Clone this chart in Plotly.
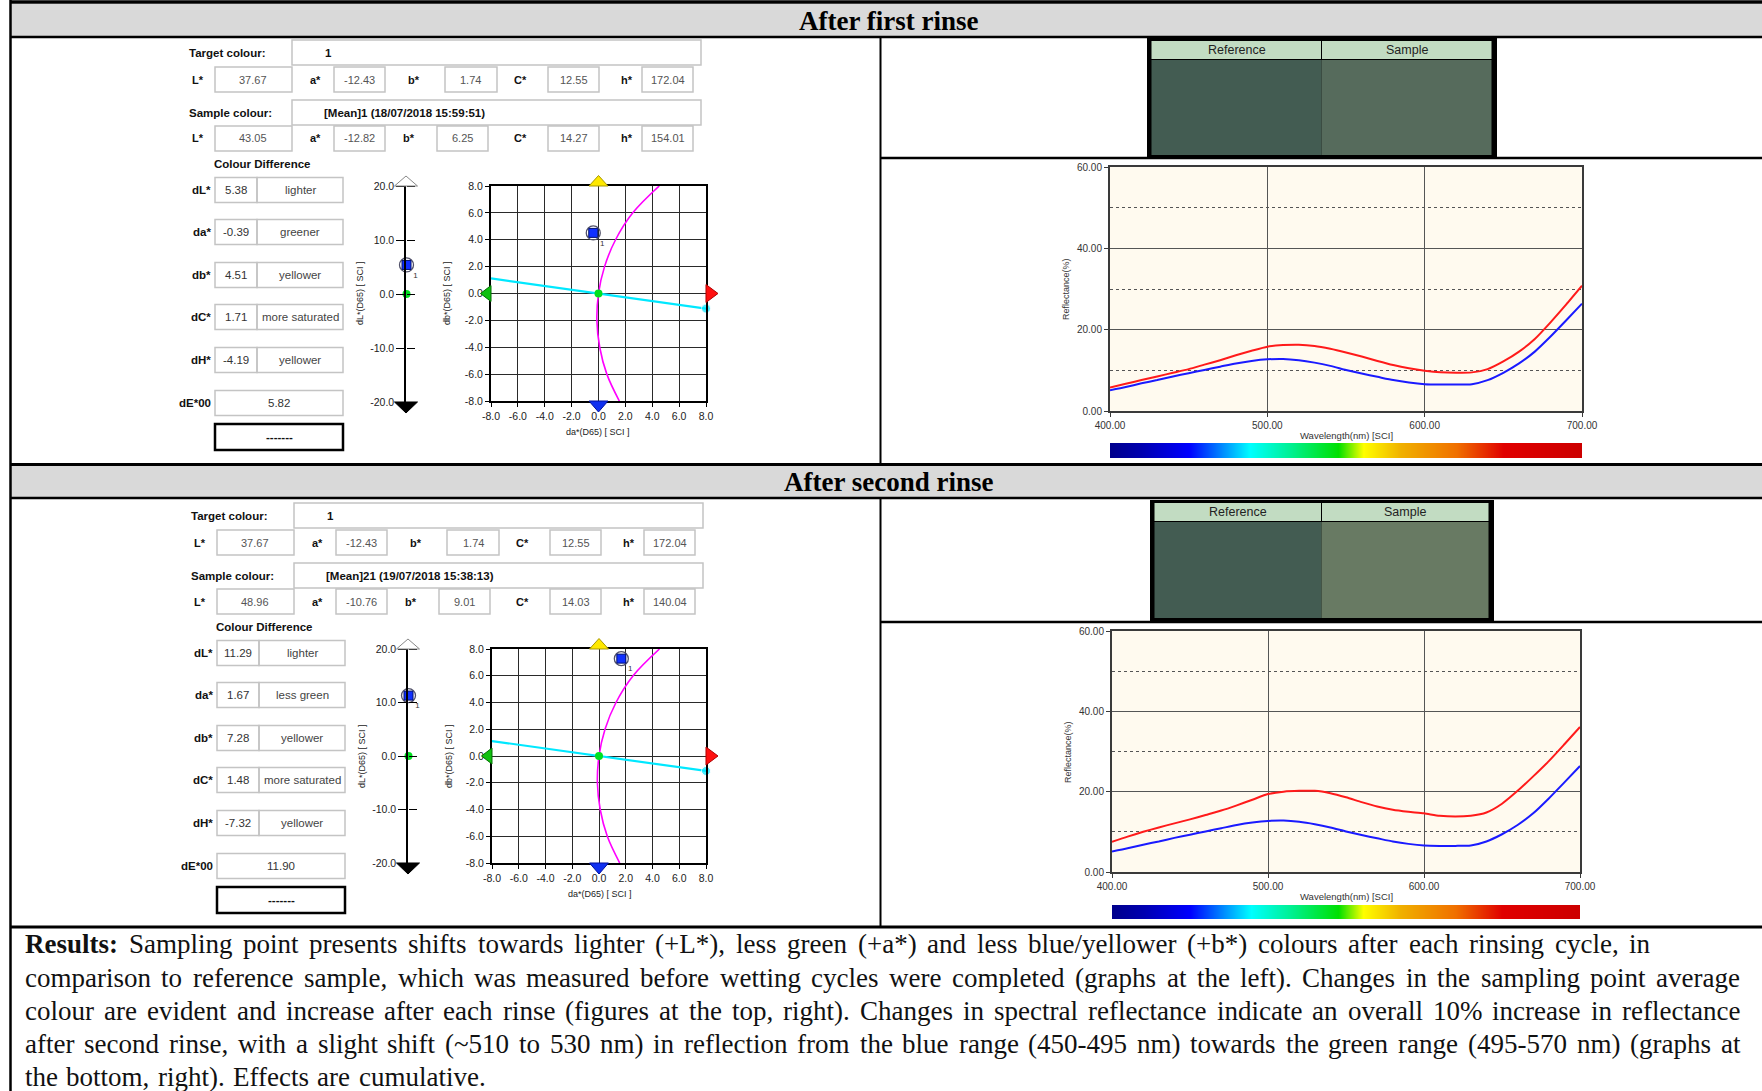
import plotly.graph_objects as go

W, H = 1762, 1091

# ---------------- data ----------------
section_titles = ["After first rinse", "After second rinse"]

target_name = "1"
lab_labels = ["L*", "a*", "b*", "C*", "h*"]
target_lab = [37.67, -12.43, 1.74, 12.55, 172.04]

sample1_name = "[Mean]1 (18/07/2018 15:59:51)"
sample1_lab = [43.05, -12.82, 6.25, 14.27, 154.01]
sample2_name = "[Mean]21 (19/07/2018 15:38:13)"
sample2_lab = [48.96, -10.76, 9.01, 14.03, 140.04]

diff_labels = ["dL*", "da*", "db*", "dC*", "dH*"]
diff1_values = [5.38, -0.39, 4.51, 1.71, -4.19]
diff1_words = ["lighter", "greener", "yellower", "more saturated", "yellower"]
diff2_values = [11.29, 1.67, 7.28, 1.48, -7.32]
diff2_words = ["lighter", "less green", "yellower", "more saturated", "yellower"]
de00_1 = 5.82
de00_2 = 11.90

dl_ticks = [-20, -10, 0, 10, 20]
ab_ticks = [-8, -6, -4, -2, 0, 2, 4, 6, 8]

# constant-chroma arc of the target (da*, db*)
arc_da = [4.52, 2.55, 1.27, 0.45, 0.0, -0.12, 0.09, 0.62, 1.55]
arc_db = [8.0, 6.0, 4.0, 2.0, 0.0, -2.0, -4.0, -6.0, -8.0]
# hue line of the target
hue_da = [-8.0, 8.0]
hue_db = [1.12, -1.12]

wavelength = [400, 410, 420, 430, 440, 450, 460, 470, 480, 490, 500,
              510, 520, 530, 540, 550, 560, 570, 580, 590, 600,
              610, 620, 630, 640, 650, 660, 670, 680, 690, 700]
refl_reference = [5.1, 5.9, 6.8, 7.6, 8.5, 9.3, 10.1, 10.9, 11.7, 12.3, 12.7,
                  12.8, 12.5, 11.9, 11.1, 10.1, 9.2, 8.4, 7.6, 7.0, 6.6,
                  6.5, 6.5, 6.6, 7.6, 9.4, 11.7, 14.6, 18.3, 22.3, 26.4]
refl_rinse1 = [5.8, 6.7, 7.6, 8.5, 9.4, 10.3, 11.4, 12.5, 13.7, 14.8, 15.8,
               16.2, 16.3, 16.0, 15.3, 14.4, 13.4, 12.3, 11.3, 10.5, 9.9,
               9.5, 9.4, 9.5, 10.3, 12.2, 14.6, 17.7, 21.8, 26.2, 30.8]
refl_rinse2 = [7.5, 8.8, 10.0, 11.1, 12.1, 13.1, 14.2, 15.3, 16.6, 18.0, 19.4,
               20.0, 20.2, 20.2, 19.6, 18.6, 17.4, 16.3, 15.5, 15.0, 14.6,
               14.0, 13.8, 14.0, 14.8, 17.0, 20.2, 23.8, 27.6, 31.8, 36.1]
wl_ticks = [400, 500, 600, 700]
refl_ticks = [0, 20, 40, 60]

spectrum_nm = [400, 420, 450, 489, 515, 545, 561, 585, 620, 650, 700]
spectrum_colors = ["#00008c", "#0000b0", "#0000ff", "#00ffff", "#00f090", "#00e000",
                   "#ffff00", "#f0b000", "#f07000", "#e00000", "#cc0000"]

swatch_reference = "#435c52"
swatch_rinse1 = "#566b5c"
swatch_rinse2 = "#687a63"

results_lead = "Results:"
results_lines = [
    "Results: Sampling point presents shifts towards lighter (+L*), less green (+a*) and less blue/yellower (+b*) colours after each rinsing cycle, in",
    "comparison to reference sample, which was measured before wetting cycles were completed (graphs at the left). Changes in the sampling point average",
    "colour are evident and increase after each rinse (figures at the top, right). Changes in spectral reflectance indicate an overall  10% increase in reflectance",
    "after second rinse, with a slight shift (~510 to 530 nm) in reflection from the blue range (450-495 nm) towards the green range (495-570 nm) (graphs at",
    "the bottom, right). Effects are cumulative.",
]

# ---------------- helpers ----------------
SANS = "Liberation Sans, Arial, sans-serif"
SERIF = "Liberation Serif, Times New Roman, serif"
shapes, annos = [], []


def X(p):
    return p / W


def Y(p):
    return 1 - p / H


def rect(x0, y0, x1, y1, line="#c4c4c4", lw=1.5, fill="rgba(0,0,0,0)", layer="below"):
    shapes.append(dict(type="rect", xref="paper", yref="paper", x0=X(x0), x1=X(x1),
                       y0=Y(y1), y1=Y(y0), line=dict(color=line, width=lw),
                       fillcolor=fill, layer=layer))


def fill(x0, y0, x1, y1, color, layer="below"):
    shapes.append(dict(type="rect", xref="paper", yref="paper", x0=X(x0), x1=X(x1),
                       y0=Y(y1), y1=Y(y0), line=dict(width=0), fillcolor=color, layer=layer))


def seg(x0, y0, x1, y1, color="black", lw=2.5, layer="above"):
    shapes.append(dict(type="line", xref="paper", yref="paper", x0=X(x0), x1=X(x1),
                       y0=Y(y0), y1=Y(y1), line=dict(color=color, width=lw), layer=layer))


def tri(pts, color, edge):
    path = "M " + " L ".join(f"{X(px_):.6f},{Y(py_):.6f}" for px_, py_ in pts) + " Z"
    shapes.append(dict(type="path", xref="paper", yref="paper", path=path, fillcolor=color,
                       line=dict(color=edge, width=1), layer="above"))


def txt(x, y, s, size=11.5, color="#111", bold=False, xa="center", family=SANS, angle=0):
    annos.append(dict(xref="paper", yref="paper", x=X(x), y=Y(y),
                      text=f"<b>{s}</b>" if bold else s, showarrow=False,
                      xanchor=xa, yanchor="middle", textangle=angle, borderpad=0, borderwidth=0,
                      font=dict(size=size, color=color, family=family)))


def aname(p, n):
    return f"{p}axis" if n == 1 else f"{p}axis{n}"


def aref(p, n):
    return p if n == 1 else f"{p}{n}"


# Times-compatible advance widths (per 1000 em) for justified paragraph layout
_TW = {" ": 250, "!": 333, "%": 833, "(": 333, ")": 333, "*": 500, "+": 564, ",": 250, "-": 333,
       ".": 250, "/": 278, ":": 278, ";": 278, "~": 541, "[": 333, "]": 333,
       "A": 722, "B": 667, "C": 667, "D": 722, "E": 611, "F": 556, "G": 722, "H": 722, "I": 333,
       "J": 389, "K": 722, "L": 611, "M": 889, "N": 722, "O": 722, "P": 556, "Q": 722, "R": 667,
       "S": 556, "T": 611, "U": 722, "V": 722, "W": 944, "X": 722, "Y": 722, "Z": 611,
       "a": 444, "b": 500, "c": 444, "d": 500, "e": 444, "f": 333, "g": 500, "h": 500, "i": 278,
       "j": 278, "k": 500, "l": 278, "m": 778, "n": 500, "o": 500, "p": 500, "q": 500, "r": 333,
       "s": 389, "t": 278, "u": 500, "v": 500, "w": 722, "x": 500, "y": 500, "z": 444}
_TWB = {"R": 722, "e": 444, "s": 389, "u": 556, "l": 278, "t": 333, ":": 333}


def word_width(w, size, bold=False):
    tab = _TWB if bold else _TW
    return sum(tab.get(ch, _TW.get(ch, 500)) for ch in w) * size / 1000.0


def paragraph_line(line, x_left, x_right, y, size, justify=True):
    words = line.split()
    bolds = [i == 0 and w == results_lead for i, w in enumerate(words)]
    widths = [word_width(w, size, b) for w, b in zip(words, bolds)]
    if justify and len(words) > 1:
        gap = (x_right - x_left - sum(widths)) / (len(words) - 1)
    else:
        gap = _TW[" "] * size / 1000.0 + 1.5
    x = x_left
    for w, b, ww in zip(words, bolds, widths):
        txt(x, y, w, size=size, color="#111", bold=b, xa="left", family=SERIF)
        x += ww + gap


fig = go.Figure()
layout_axes = {}

# ---------------- table frame ----------------
fill(11, 4, W, 36, "#d9d9d9")
fill(11, 466, W, 497, "#d9d9d9")
seg(10, 2, W, 2, lw=3.5)
seg(10.5, 0, 10.5, H, lw=2.5)
seg(10, 37, W, 37)
seg(880.5, 37, 880.5, 464, lw=2)
seg(880, 158, W, 158)
seg(10, 464.5, W, 464.5, lw=3)
seg(10, 498, W, 498)
seg(880.5, 498, 880.5, 927, lw=2)
seg(880, 622, W, 622)
seg(10, 927, W, 927, lw=3)

txt(888, 20.5, section_titles[0], size=27, bold=True, family=SERIF, color="#000")
txt(888, 482, section_titles[1], size=27, bold=True, family=SERIF, color="#000")


# ---------------- left panels ----------------
def left_panel(dx, dy, sample_name, sample_lab, diff_vals, diff_wds, de00):
    def R(x0, y0, x1, y1, **kw):
        rect(x0 + dx, y0 + dy, x1 + dx, y1 + dy, **kw)

    def T(x, y, s, **kw):
        txt(x + dx, y + dy, s, **kw)

    def lab_row(y0, vals, bbox, blab):
        label_x = [198, 315, blab, 520, 627]
        boxes = [(215, 292), (334, 385), bbox, (548, 599), (642, 693)]
        for lab, v, lx, (b0, b1) in zip(lab_labels, vals, label_x, boxes):
            T(lx, y0 + 12.5, lab, bold=True, size=11)
            R(b0, y0, b1, y0 + 25)
            T((b0 + b1) / 2, y0 + 12.5, f"{v:.2f}", color="#555", size=11)

    T(189, 53, "Target colour:", bold=True, xa="left")
    R(292, 40, 701, 65)
    T(325, 53, target_name, bold=True, xa="left")
    lab_row(67, target_lab, (445, 497), 414)

    T(189, 113, "Sample colour:", bold=True, xa="left")
    R(292, 100, 701, 125)
    T(324, 113, sample_name, bold=True, xa="left")
    lab_row(126, sample_lab, (437, 488), 409)

    T(214, 164, "Colour Difference", bold=True, xa="left")
    for lab, v, w, c in zip(diff_labels, diff_vals, diff_wds, [190, 232, 275, 317, 360]):
        T(211, c, lab, bold=True, xa="right")
        R(215, c - 12.5, 257, c + 12.5)
        R(257, c - 12.5, 343, c + 12.5)
        T(236, c, f"{v:.2f}", color="#333")
        T(300, c, w, color="#444")
    T(211, 403, "dE*00", bold=True, xa="right")
    R(215, 390.5, 343, 415.5)
    T(279, 403, f"{de00:.2f}", color="#333")
    R(215, 424, 343, 450, line="black", lw=2.5)
    T(279, 437, "-------", bold=True)


left_panel(0, 0, sample1_name, sample1_lab, diff1_values, diff1_words, de00_1)
left_panel(2, 463, sample2_name, sample2_lab, diff2_values, diff2_words, de00_2)


# ---------------- swatches ----------------
def swatch(x0, y0, x1, y1, xm, hb, sample_col):
    fill(x0, y0, x1, y1, "black")
    fill(x0 + 4.5, y0 + 3, xm - 0.5, hb, "#c2dcc2")
    fill(xm + 0.5, y0 + 3, x1 - 5.5, hb, "#c2dcc2")
    fill(x0 + 4.5, hb + 1, xm, y1 - 3, swatch_reference)
    fill(xm, hb + 1, x1 - 5.5, y1 - 3, sample_col)
    txt((x0 + 4.5 + xm) / 2, (y0 + 3 + hb) / 2, "Reference", size=12.5, color="#222")
    txt((xm + x1 - 5.5) / 2, (y0 + 3 + hb) / 2, "Sample", size=12.5, color="#222")


swatch(1147, 38, 1497, 158, 1321.5, 59, swatch_rinse1)
swatch(1150, 500, 1494, 621, 1321.5, 521, swatch_rinse2)

# ---------------- charts ----------------
sections = [
    dict(ab=(491, 186, 706, 401), dl=(406, 186, 402), rf=(1110, 167, 1582, 411),
         sp=(443, 458), dvals=diff1_values, refl=refl_rinse1,
         t_dl=(360, 293), t_aby=(447, 293), t_abx=(598, 432), t_rfy=(1066, 289), t_rfx=(1346, 435)),
    dict(ab=(492, 649, 706, 863), dl=(408, 649, 863), rf=(1112, 631, 1580, 872),
         sp=(905, 919), dvals=diff2_values, refl=refl_rinse2,
         t_dl=(362, 756), t_aby=(449, 756), t_abx=(600, 894), t_rfy=(1068, 752), t_rfx=(1346, 896)),
]

tick_font = dict(size=10.5, color="#222", family=SANS)
scale_cs = [[(nm - spectrum_nm[0]) / (spectrum_nm[-1] - spectrum_nm[0]), c]
            for nm, c in zip(spectrum_nm, spectrum_colors)]

for k, s in enumerate(sections):
    n_ab, n_dl, n_rf, n_sp, n_dt = 1 + 5 * k, 2 + 5 * k, 3 + 5 * k, 4 + 5 * k, 5 + 5 * k
    dL, da, db = s["dvals"][0], s["dvals"][1], s["dvals"][2]

    # ---- a*b* plot ----
    x0, y0, x1, y1 = s["ab"]
    lo, hi = ab_ticks[0], ab_ticks[-1]
    common_ab = dict(range=[lo, hi], tickvals=ab_ticks, ticktext=[f"{v:.1f}" for v in ab_ticks],
                     showgrid=True, gridcolor="#2a2a2a", gridwidth=1, zeroline=False, showline=True,
                     mirror=True, linecolor="black", linewidth=2, ticks="outside",
                     ticklen=4, tickcolor="black", tickfont=tick_font, automargin=False)
    layout_axes[aname("x", n_ab)] = dict(domain=[X(x0), X(x1)], anchor=aref("y", n_ab), **common_ab)
    layout_axes[aname("y", n_ab)] = dict(domain=[Y(y1), Y(y0)], anchor=aref("x", n_ab), **common_ab)
    xr, yr = aref("x", n_ab), aref("y", n_ab)
    fig.add_trace(go.Scatter(x=arc_da, y=arc_db, mode="lines", xaxis=xr, yaxis=yr,
                             line=dict(color="#ff00ff", width=1.6, shape="spline")))
    fig.add_trace(go.Scatter(x=hue_da, y=hue_db, mode="lines+markers", xaxis=xr, yaxis=yr,
                             line=dict(color="#00e8ff", width=2.2),
                             marker=dict(size=[0, 9], color="#00e8ff"), cliponaxis=False))
    fig.add_trace(go.Scatter(x=[0], y=[0], mode="markers", xaxis=xr, yaxis=yr,
                             marker=dict(size=8, color="#00e020")))
    fig.add_trace(go.Scatter(x=[da], y=[db], mode="markers", xaxis=xr, yaxis=yr,
                             marker=dict(size=14, symbol="circle-open", color="#505068",
                                         line=dict(width=1.3))))
    fig.add_trace(go.Scatter(x=[da], y=[db], mode="markers+text", xaxis=xr, yaxis=yr,
                             text=["1"], textposition="bottom right",
                             textfont=dict(size=8, color="#333", family=SANS),
                             marker=dict(size=9, symbol="square", color="#1030ff",
                                         line=dict(color="#001070", width=1))))
    # direction triangles around the a*b* frame (decoration)
    cx, cy = (x0 + x1) / 2, (y0 + y1) / 2
    tri([(cx - 9.5, y0), (cx + 9.5, y0), (cx, y0 - 10.5)], "#ffe800", "#a89800")
    tri([(cx - 9.5, y1), (cx + 9.5, y1), (cx, y1 + 11)], "#1030f0", "#0010a0")
    tri([(x0, cy - 8), (x0, cy + 8), (x0 - 10.5, cy)], "#10c010", "#007000")
    tri([(x1, cy - 9), (x1, cy + 9), (x1 + 12, cy)], "#ff1010", "#b00000")

    # ---- dL* bar ----
    xl, ya, yb = s["dl"]
    layout_axes[aname("x", n_dl)] = dict(domain=[X(xl), X(xl + 1)], range=[0, 1], visible=False,
                                         anchor=aref("y", n_dl), automargin=False)
    layout_axes[aname("y", n_dl)] = dict(domain=[Y(yb), Y(ya)], range=[dl_ticks[0], dl_ticks[-1]],
                                         anchor=aref("x", n_dl), tickvals=dl_ticks,
                                         ticktext=[f"{v:.1f}" for v in dl_ticks],
                                         showgrid=False, zeroline=False, showline=True, mirror=False,
                                         linecolor="black", linewidth=1.5, ticks="outside", ticklen=8,
                                         tickcolor="black", tickfont=tick_font, automargin=False)
    # right-hand half of the crossing tick marks
    layout_axes[aname("y", n_dt)] = dict(overlaying=aref("y", n_dl), anchor="free", position=X(xl),
                                         side="right", range=[dl_ticks[0], dl_ticks[-1]],
                                         tickvals=dl_ticks, showticklabels=False, showgrid=False,
                                         zeroline=False, showline=False, ticks="outside", ticklen=8,
                                         tickcolor="black", automargin=False)
    xr, yr = aref("x", n_dl), aref("y", n_dl)
    tri([(xl - 11.5, ya), (xl + 11.5, ya), (xl, ya - 10)], "white", "#888")
    tri([(xl - 11.5, yb), (xl + 11.5, yb), (xl, yb + 11)], "black", "black")
    fig.add_trace(go.Scatter(x=[0.5], y=[0], mode="markers", xaxis=xr, yaxis=aref("y", n_dt),
                             cliponaxis=False, marker=dict(size=8, color="#00e020")))
    fig.add_trace(go.Scatter(x=[0.5], y=[dL], mode="markers", xaxis=xr, yaxis=yr, cliponaxis=False,
                             marker=dict(size=14, symbol="circle-open", color="#505068",
                                         line=dict(width=1.3))))
    fig.add_trace(go.Scatter(x=[0.5], y=[dL], mode="markers+text", xaxis=xr, yaxis=yr,
                             cliponaxis=False, text=["1"], textposition="bottom right",
                             textfont=dict(size=8, color="#333", family=SANS),
                             marker=dict(size=9, symbol="square", color="#1030ff",
                                         line=dict(color="#001070", width=1))))

    # ---- reflectance ----
    rx0, ry0, rx1, ry1 = s["rf"]
    fill(rx0, ry0, rx1, ry1, "#fffaef")
    rf_common = dict(showgrid=True, gridcolor="#555", gridwidth=1, zeroline=False, showline=True,
                     mirror=True, linecolor="#3a3a3a", linewidth=2, ticks="outside", ticklen=4,
                     tickcolor="#3a3a3a", tickformat=".2f", automargin=False,
                     tickfont=dict(size=10, color="#333", family=SANS))
    layout_axes[aname("x", n_rf)] = dict(domain=[X(rx0), X(rx1)], range=[wl_ticks[0], wl_ticks[-1]],
                                         tickvals=wl_ticks, anchor=aref("y", n_rf), **rf_common)
    layout_axes[aname("y", n_rf)] = dict(domain=[Y(ry1), Y(ry0)], range=[refl_ticks[0], refl_ticks[-1]],
                                         tickvals=refl_ticks, anchor=aref("x", n_rf),
                                         minor=dict(dtick=10, showgrid=True, gridcolor="#555",
                                                    griddash="dot", gridwidth=1), **rf_common)
    xr, yr = aref("x", n_rf), aref("y", n_rf)
    fig.add_trace(go.Scatter(x=wavelength, y=refl_reference, mode="lines", xaxis=xr, yaxis=yr,
                             line=dict(color="#1a1aff", width=2, shape="spline", smoothing=0.6)))
    fig.add_trace(go.Scatter(x=wavelength, y=s["refl"], mode="lines", xaxis=xr, yaxis=yr,
                             line=dict(color="#ff1a1a", width=2, shape="spline", smoothing=0.6)))

    # ---- spectrum bar ----
    sy0, sy1 = s["sp"]
    layout_axes[aname("x", n_sp)] = dict(domain=[X(rx0), X(rx1)], range=[spectrum_nm[0], spectrum_nm[-1]],
                                         visible=False, anchor=aref("y", n_sp), automargin=False)
    layout_axes[aname("y", n_sp)] = dict(domain=[Y(sy1), Y(sy0)], range=[0, 1], visible=False,
                                         anchor=aref("x", n_sp), automargin=False)
    fig.add_trace(go.Heatmap(z=[[spectrum_nm[0], spectrum_nm[-1]], [spectrum_nm[0], spectrum_nm[-1]]],
                             x=[spectrum_nm[0], spectrum_nm[-1]], y=[0, 1], zsmooth="best",
                             zmin=spectrum_nm[0], zmax=spectrum_nm[-1], colorscale=scale_cs,
                             showscale=False, hoverinfo="skip",
                             xaxis=aref("x", n_sp), yaxis=aref("y", n_sp)))

    # ---- axis titles ----
    txt(*s["t_dl"], "dL*(D65) [ SCI ]", size=9, color="#222", angle=-90)
    txt(*s["t_aby"], "db*(D65) [ SCI ]", size=9, color="#222", angle=-90)
    txt(*s["t_abx"], "da*(D65) [ SCI ]", size=9, color="#222")
    txt(*s["t_rfy"], "Reflectance(%)", size=9, color="#333", angle=-90)
    txt(*s["t_rfx"], "Wavelength(nm) [SCI]", size=9.5, color="#333")

# ---------------- results text ----------------
line_right = [1650, 1740, 1740, 1740, None]
for line_txt, yc, xr_ in zip(results_lines, [944, 977.5, 1011, 1044, 1077], line_right):
    paragraph_line(line_txt, 25, xr_ if xr_ else W, yc, 27, justify=xr_ is not None)

fig.update_layout(template="none", width=W, height=H, autosize=False,
                  margin=dict(l=0, r=0, t=0, b=0, pad=0, autoexpand=False),
                  paper_bgcolor="white", plot_bgcolor="rgba(0,0,0,0)", showlegend=False,
                  hovermode=False, shapes=shapes, annotations=annos, **layout_axes)

fig.write_html("out.html",
               post_script="document.body.style.margin='0px';"
                           "document.documentElement.style.overflow='hidden';")
